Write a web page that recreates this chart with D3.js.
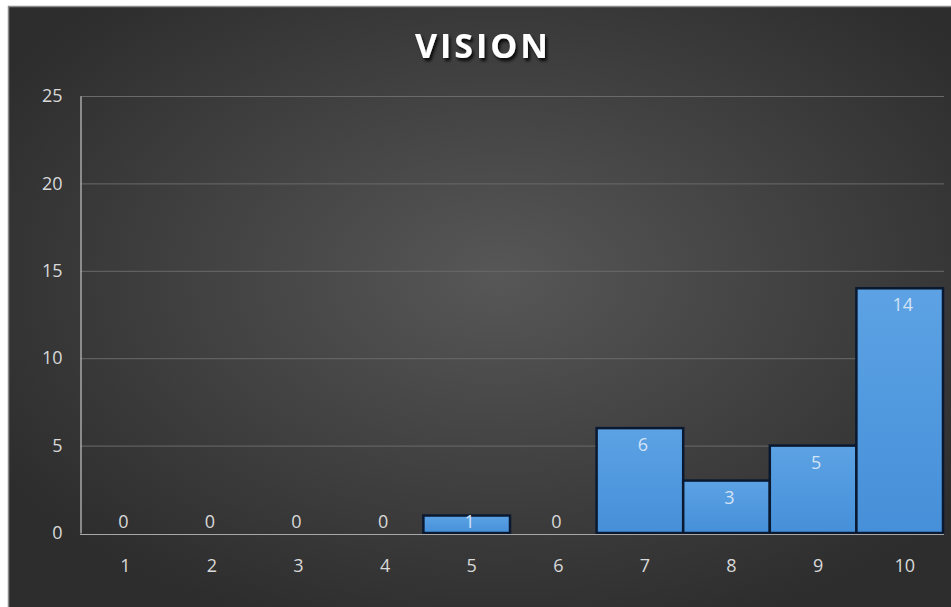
<!DOCTYPE html>
<html>
<head>
<meta charset="utf-8">
<script src="https://cdn.jsdelivr.net/npm/d3@7"></script>
<style>
  html, body { margin: 0; padding: 0; background: #ffffff; }
  svg { display: block; }
</style>
</head>
<body>
<svg id="chart" width="951" height="607"></svg>
<script>
// Ratings 1–10 and how many responses each received
const categories = ["1", "2", "3", "4", "5", "6", "7", "8", "9", "10"];
const counts = [0, 0, 0, 0, 1, 0, 6, 3, 5, 14];
const yTicks = [0, 5, 10, 15, 20, 25];
const title = "VISION";

const svg = d3.select("#chart");
const W = 951, H = 607;
const frame = { x: 8, y: 6 };
const plot = { left: 80, right: 944, top: 96, bottom: 533 };
const FONT = "'Open Sans', 'Liberation Sans', sans-serif";

const defs = svg.append("defs");

// Dark backdrop, lighter toward the middle
const bg = defs.append("radialGradient").attr("id", "bgGrad")
  .attr("cx", "52%").attr("cy", "45%").attr("r", "62%");
bg.append("stop").attr("offset", "0%").attr("stop-color", "#575757");
bg.append("stop").attr("offset", "100%").attr("stop-color", "#2d2d2d");

const barGrad = defs.append("linearGradient").attr("id", "barGrad")
  .attr("x1", "0").attr("y1", "0").attr("x2", "0").attr("y2", "1");
barGrad.append("stop").attr("offset", "0%").attr("stop-color", "#5ca2e4");
barGrad.append("stop").attr("offset", "100%").attr("stop-color", "#4690d9");

const shadow = defs.append("filter").attr("id", "titleShadow")
  .attr("x", "-10%").attr("y", "-20%").attr("width", "130%").attr("height", "160%");
shadow.append("feDropShadow").attr("dx", 2).attr("dy", 3)
  .attr("stdDeviation", 1.5).attr("flood-color", "#000").attr("flood-opacity", 0.85);

svg.append("rect")
  .attr("x", frame.x).attr("y", frame.y)
  .attr("width", W - frame.x).attr("height", H - frame.y)
  .attr("fill", "url(#bgGrad)");
// thin frame edge
svg.append("path")
  .attr("d", `M${frame.x + 0.5},${H} V${frame.y + 0.5} H${W}`)
  .attr("fill", "none").attr("stroke", "#8a8a8a").attr("stroke-width", 1.5);

const x = d3.scaleBand().domain(categories).range([77, 943]).padding(0);
const y = d3.scaleLinear().domain([0, 25]).range([plot.bottom, plot.top]);

// Horizontal gridlines
svg.append("g")
  .selectAll("line")
  .data(yTicks.filter(t => t > 0))
  .join("line")
  .attr("x1", plot.left).attr("x2", plot.right)
  .attr("y1", d => y(d) + 0.5).attr("y2", d => y(d) + 0.5)
  .attr("stroke", "#6a6a6a").attr("stroke-width", 1);

// Y axis
const yAxis = svg.append("g")
  .attr("transform", `translate(${plot.left + 0.5},0)`)
  .call(d3.axisLeft(y).tickValues(yTicks).tickSize(0).tickPadding(18));
yAxis.select(".domain").attr("stroke", "#a8a8a8").attr("stroke-width", 1.5);
yAxis.selectAll("text")
  .attr("fill", "#d9d9d9")
  .style("font-family", FONT)
  .style("font-size", "18px");

// Bars (no gap between neighbours)
svg.append("g")
  .selectAll("rect")
  .data(counts)
  .join("rect")
  .attr("x", (d, i) => x(categories[i]))
  .attr("y", d => y(d))
  .attr("width", x.bandwidth())
  .attr("height", d => y(0) - y(d))
  .attr("fill", "url(#barGrad)")
  .attr("stroke", "#0a1930")
  .attr("stroke-width", 2.5);

// X axis baseline
svg.append("line")
  .attr("x1", plot.left).attr("x2", plot.right)
  .attr("y1", plot.bottom + 1.5).attr("y2", plot.bottom + 1.5)
  .attr("stroke", "#a8a8a8").attr("stroke-width", 1.2);

// Category labels
const xAxis = svg.append("g")
  .attr("transform", `translate(5,${plot.bottom})`)
  .call(d3.axisBottom(x).tickSize(0).tickPadding(26));
xAxis.select(".domain").remove();
xAxis.selectAll("text")
  .attr("fill", "#d9d9d9")
  .style("font-family", FONT)
  .style("font-size", "18px");

// Value labels inside the top of each bar, kept above the baseline for short bars
svg.append("g")
  .selectAll("text")
  .data(counts)
  .join("text")
  .attr("x", (d, i) => x(categories[i]) + x.bandwidth() / 2 + 3)
  .attr("y", d => Math.min(y(d) + 23, y(0) - 5))
  .attr("text-anchor", "middle")
  .attr("fill", d => d === 0 ? "#d9d9d9" : "#d3e3f6")
  .style("font-family", FONT)
  .style("font-size", "18px")
  .text(d => d);

// Title
svg.append("text")
  .attr("x", 483).attr("y", 58)
  .attr("text-anchor", "middle")
  .attr("fill", "#ffffff")
  .attr("filter", "url(#titleShadow)")
  .style("font-family", FONT)
  .style("font-weight", "700")
  .style("font-size", "34px")
  .style("letter-spacing", "3px")
  .text(title);
</script>
</body>
</html>
